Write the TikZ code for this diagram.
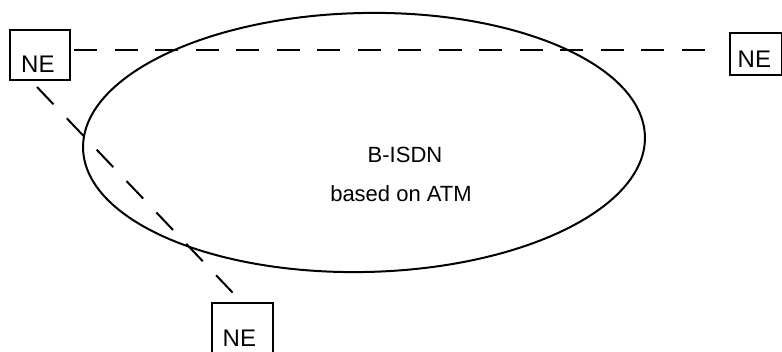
\documentclass[tikz,border=0pt]{standalone}
\usepackage{fontspec}
\setmainfont{Liberation Sans}
\usetikzlibrary{shapes.geometric}
\begin{document}
\begin{tikzpicture}[x=1pt,y=-1pt,
  nebox/.style={draw, line width=1.5pt, rectangle, inner sep=0pt},
  netext/.style={font=\fontsize{24}{26}\selectfont, inner sep=0pt, anchor=base west},
  lbltext/.style={font=\fontsize{22}{24}\selectfont, inner sep=0pt, anchor=base},
  link/.style={line width=2pt, dash pattern=on 23pt off 17.5pt},
  slant/.style={line width=2pt, dash pattern=on 24pt off 19.3pt},
  cloud/.style={draw, ellipse, line width=2pt, inner sep=0pt,
    minimum width=562pt, minimum height=259pt}]
  \useasboundingbox (0,0) rectangle (782,352);
  \clip (0,0) rectangle (782,352);

  % network
  \node[cloud, rotate=1.2] (net) at (364,142.5) {};
  \node[lbltext] (lbl1) at (405,163) {B-ISDN};
  \node[lbltext] (lbl2) at (401,202) {based on ATM};

  % network elements
  \node[nebox, minimum width=60pt, minimum height=50pt] (ne1) at (40,55) {};
  \node[netext] (t1) at (21,73) {NE};
  \node[nebox, minimum width=52pt, minimum height=42pt] (ne2) at (756,54) {};
  \node[netext] (t2) at (737.5,68) {NE};
  \node[nebox, minimum width=61pt, minimum height=56pt] (ne3) at (242.5,331) {};
  \node[netext] (t3) at (222.5,347) {NE};

  % links
  \coordinate (h1) at (74,50);
  \coordinate (h2) at (708,50);
  \coordinate (d1) at (37,87);
  \coordinate (d2) at (233,293);
  \draw[link] (h1) -- (h2);
  \draw[slant] (d1) -- (d2);
\end{tikzpicture}
\end{document}
